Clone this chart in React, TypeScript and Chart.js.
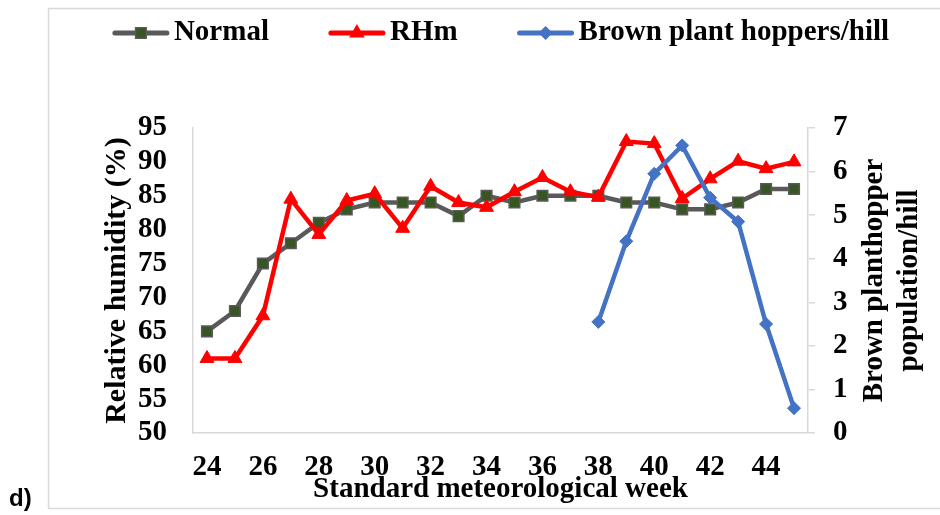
import React, { useEffect, useRef } from "react";
import { Chart, registerables } from "chart.js";

Chart.register(...registerables);

const weeks = ["24","25","26","27","28","29","30","31","32","33","34","35","36","37","38","39","40","41","42","43","44","45"];
const normalRH = [65,68,75,78,81,83,84,84,84,82,85,84,85,85,85,84,84,83,83,84,86,86];
const rhm = [61,61,67.3,84.5,79.3,84.3,85.3,80.2,86.4,84,83.3,85.6,87.7,85.6,84.8,93,92.7,84.6,87.5,90.1,89,90];
const bph = [null,null,null,null,null,null,null,null,null,null,null,null,null,null,2.55,4.4,5.95,6.6,5.4,4.85,2.5,0.57];

const seriesNames = ["Normal", "RHm", "Brown plant hoppers/hill"];
const leftTitle = "Relative humidity (%)";
const rightTitle = ["Brown planthopper", "population/hill"];
const xTitle = "Standard meteorological week";
const panelLabel = "d)";

const SERIF = "'Liberation Serif', 'Times New Roman', serif";
const GRAY_LINE = "#595959";
const GREEN = "#375623";
const RED = "#FF0000";
const BLUE = "#4472C4";
const FRAME = "#d9d9d9";

function drawMarker(ctx: CanvasRenderingContext2D, kind: string, x: number, y: number, fill: string, stroke: string) {
  ctx.beginPath();
  if (kind === "rect") {
    const s = 5.3;
    ctx.rect(x - s, y - s, 2 * s, 2 * s);
  } else if (kind === "triangle") {
    const r = 7.5;
    ctx.moveTo(x, y - r);
    ctx.lineTo(x + r * 0.866, y + r * 0.5);
    ctx.lineTo(x - r * 0.866, y + r * 0.5);
    ctx.closePath();
  } else {
    const r = 6;
    ctx.moveTo(x - r, y);
    ctx.lineTo(x, y - r);
    ctx.lineTo(x + r, y);
    ctx.lineTo(x, y + r);
    ctx.closePath();
  }
  ctx.fillStyle = fill;
  ctx.fill();
  ctx.lineWidth = 1.5;
  ctx.strokeStyle = stroke;
  ctx.stroke();
}

const decorPlugin = {
  id: "decor",
  beforeDraw(chart: any) {
    const ctx = chart.ctx as CanvasRenderingContext2D;
    ctx.save();
    ctx.fillStyle = "#ffffff";
    ctx.fillRect(0, 0, chart.width, chart.height);
    ctx.strokeStyle = FRAME;
    ctx.lineWidth = 1.5;
    ctx.strokeRect(48.5, 8.5, 960, 500);
    ctx.restore();
  },
  afterDraw(chart: any) {
    const ctx = chart.ctx as CanvasRenderingContext2D;
    ctx.save();
    const items = [
      { name: seriesNames[0], color: GRAY_LINE, fill: GREEN, stroke: GRAY_LINE, kind: "rect" },
      { name: seriesNames[1], color: RED, fill: RED, stroke: RED, kind: "triangle" },
      { name: seriesNames[2], color: BLUE, fill: BLUE, stroke: BLUE, kind: "diamond" },
    ];
    ctx.font = `bold 29px ${SERIF}`;
    const sym = 56, gap = 5, spacing = 60;
    const widths = items.map((it) => sym + gap + ctx.measureText(it.name).width);
    const total = widths.reduce((a, b) => a + b, 0) + spacing * (items.length - 1);
    let x = 501 - total / 2;
    const ly = 33;
    items.forEach((it, i) => {
      ctx.beginPath();
      ctx.lineCap = "round";
      ctx.lineWidth = 5;
      ctx.strokeStyle = it.color;
      ctx.moveTo(x + 2, ly);
      ctx.lineTo(x + sym - 2, ly);
      ctx.stroke();
      drawMarker(ctx, it.kind, x + sym / 2, ly, it.fill, it.stroke);
      ctx.fillStyle = "#000";
      ctx.textAlign = "left";
      ctx.textBaseline = "middle";
      ctx.font = `bold 29px ${SERIF}`;
      ctx.fillText(it.name, x + sym + gap, ly);
      x += widths[i] + spacing;
    });
    const ca = chart.chartArea;
    ctx.translate(892.5, (ca.top + ca.bottom) / 2);
    ctx.rotate(-Math.PI / 2);
    ctx.textAlign = "center";
    ctx.textBaseline = "middle";
    ctx.fillStyle = "#000";
    ctx.font = `bold 29px ${SERIF}`;
    ctx.fillText(rightTitle[0], 0, -17.5);
    ctx.fillText(rightTitle[1], 0, 17.5);
    ctx.restore();
    ctx.save();
    ctx.fillStyle = "#000";
    ctx.font = "bold 24px 'Liberation Sans', Arial, sans-serif";
    ctx.textAlign = "left";
    ctx.textBaseline = "middle";
    ctx.fillText(panelLabel, 9, 499);
    ctx.restore();
  },
};

export default function App() {
  const ref = useRef<HTMLCanvasElement | null>(null);
  useEffect(() => {
    if (!ref.current) return;
    const tickFont = { family: SERIF, size: 29, weight: "bold" as const };
    const chart = new Chart(ref.current, {
      type: "line",
      data: {
        labels: weeks,
        datasets: [
          {
            label: seriesNames[0],
            data: normalRH,
            yAxisID: "y",
            borderColor: GRAY_LINE,
            borderWidth: 4.5,
            pointStyle: "rect",
            pointRadius: 7.5,
            pointBackgroundColor: GREEN,
            pointBorderColor: GRAY_LINE,
            pointBorderWidth: 1.5,
            tension: 0,
            order: 2,
          },
          {
            label: seriesNames[1],
            data: rhm,
            yAxisID: "y",
            borderColor: RED,
            borderWidth: 4.5,
            pointStyle: "triangle",
            pointRadius: 8,
            pointBackgroundColor: RED,
            pointBorderColor: RED,
            pointBorderWidth: 1,
            tension: 0,
            order: 1,
          },
          {
            label: seriesNames[2],
            data: bph,
            yAxisID: "y1",
            borderColor: BLUE,
            borderWidth: 4.5,
            pointStyle: "rectRot",
            pointRadius: 6.5,
            pointBackgroundColor: BLUE,
            pointBorderColor: BLUE,
            pointBorderWidth: 1,
            tension: 0,
            order: 0,
          },
        ],
      },
      options: {
        animation: false,
        responsive: false,
        devicePixelRatio: 1,
        layout: { padding: { top: 128, left: 0, right: 0, bottom: 0 } },
        plugins: { legend: { display: false }, tooltip: { enabled: false } },
        scales: {
          x: {
            offset: true,
            grid: { display: false, drawTicks: false },
            border: { display: true, color: FRAME, width: 1.5 },
            ticks: {
              autoSkip: false,
              maxRotation: 0,
              padding: 17,
              color: "#000",
              font: tickFont,
              callback: (_v: any, i: number) => (i % 2 === 0 ? weeks[i] : ""),
            },
            title: {
              display: true,
              text: xTitle,
              color: "#000",
              font: tickFont,
              padding: { top: 0, bottom: 8 },
            },
            afterFit: (s: any) => { s.height = 82; },
          },
          y: {
            position: "left",
            min: 50,
            max: 95,
            grid: { display: false, drawTicks: false },
            border: { display: true, color: FRAME, width: 1.5 },
            ticks: { stepSize: 5, autoSkip: false, padding: 26, color: "#000", font: tickFont },
            title: {
              display: true,
              text: leftTitle,
              color: "#000",
              font: { family: SERIF, size: 30, weight: "bold" },
              padding: { top: 99, bottom: 0 },
            },
            afterFit: (s: any) => { s.width = 193; },
          },
          y1: {
            position: "right",
            min: 0,
            max: 7,
            grid: { display: true, drawOnChartArea: false, drawTicks: true, tickLength: 7, color: FRAME, lineWidth: 1.5 },
            border: { display: true, color: FRAME, width: 1.5 },
            ticks: { stepSize: 1, autoSkip: false, padding: 18, color: "#000", font: tickFont },
            afterFit: (s: any) => { s.width = 132; },
          },
        },
      },
      plugins: [decorPlugin],
    });
    return () => chart.destroy();
  }, []);
  return (
    <div style={{ position: "absolute", left: 0, top: 0, width: 940, height: 515, overflow: "hidden", background: "#fff" }}>
      <canvas ref={ref} width={940} height={515} />
    </div>
  );
}
